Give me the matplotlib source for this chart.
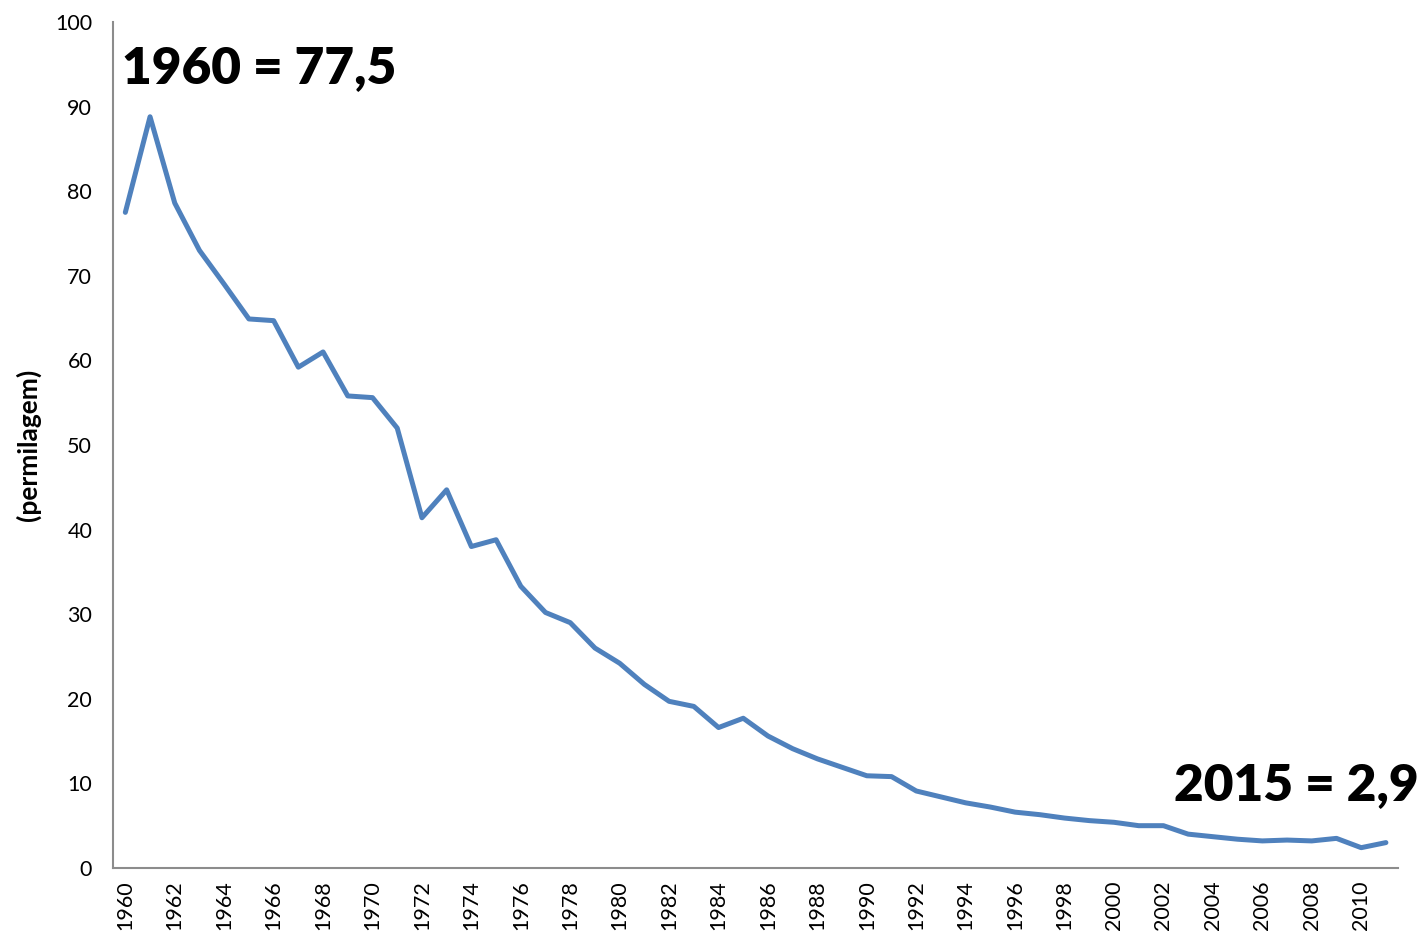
import matplotlib
matplotlib.use("Agg")
import matplotlib.pyplot as plt

years = list(range(1960, 2012))
values = [77.5, 88.8, 78.6, 73.0, 69.0, 64.9, 64.7, 59.2, 61.0, 55.8,
          55.6, 52.0, 41.4, 44.7, 38.0, 38.8, 33.3, 30.2, 29.0, 26.0,
          24.2, 21.7, 19.7, 19.1, 16.6, 17.7, 15.6, 14.1, 12.9, 11.9,
          10.9, 10.8, 9.1, 8.4, 7.7, 7.2, 6.6, 6.3, 5.9, 5.6,
          5.4, 5.0, 5.0, 4.0, 3.7, 3.4, 3.2, 3.3, 3.2, 3.5,
          2.4, 3.0]
xticks = list(range(1960, 2011, 2))
yticks = list(range(0, 101, 10))
ylabel = "(permilagem)"
note_start = "1960 = 77,5"
note_end = "2015 = 2,9"

plt.rcParams['font.family'] = ['Lato', 'DejaVu Sans']

fig = plt.figure(figsize=(14.21, 9.41), dpi=100)
ax = fig.add_axes([0.0795, 0.0776, 0.9045, 0.899])
ax.plot(years, values, color='#4F81BD', lw=3.6, solid_joinstyle='round', solid_capstyle='round')
ax.set_xlim(1959.5, 2011.5)
ax.set_ylim(0, 100)
ax.set_xticks(xticks)
ax.set_xticklabels([str(t) for t in xticks], rotation=90, fontsize=15.5)
ax.set_yticks(yticks)
ax.set_yticklabels([str(t) for t in yticks], fontsize=15.5)
ax.tick_params(axis='y', length=0, pad=15)
ax.tick_params(axis='x', length=0, pad=9)
for s in ['top', 'right']:
    ax.spines[s].set_visible(False)
for s in ['left', 'bottom']:
    ax.spines[s].set_color('#8c8c8c')
    ax.spines[s].set_linewidth(1.5)

fig.text(0.0197, 0.527, ylabel, rotation=90, fontsize=19, fontweight='bold', ha='center', va='center')
fig.text(0.0858, 0.928, note_start, fontsize=37, fontweight='heavy', ha='left', va='center')
fig.text(0.998, 0.166, note_end, fontsize=37, fontweight='heavy', ha='right', va='center')

fig.savefig("out.png", dpi=100)
